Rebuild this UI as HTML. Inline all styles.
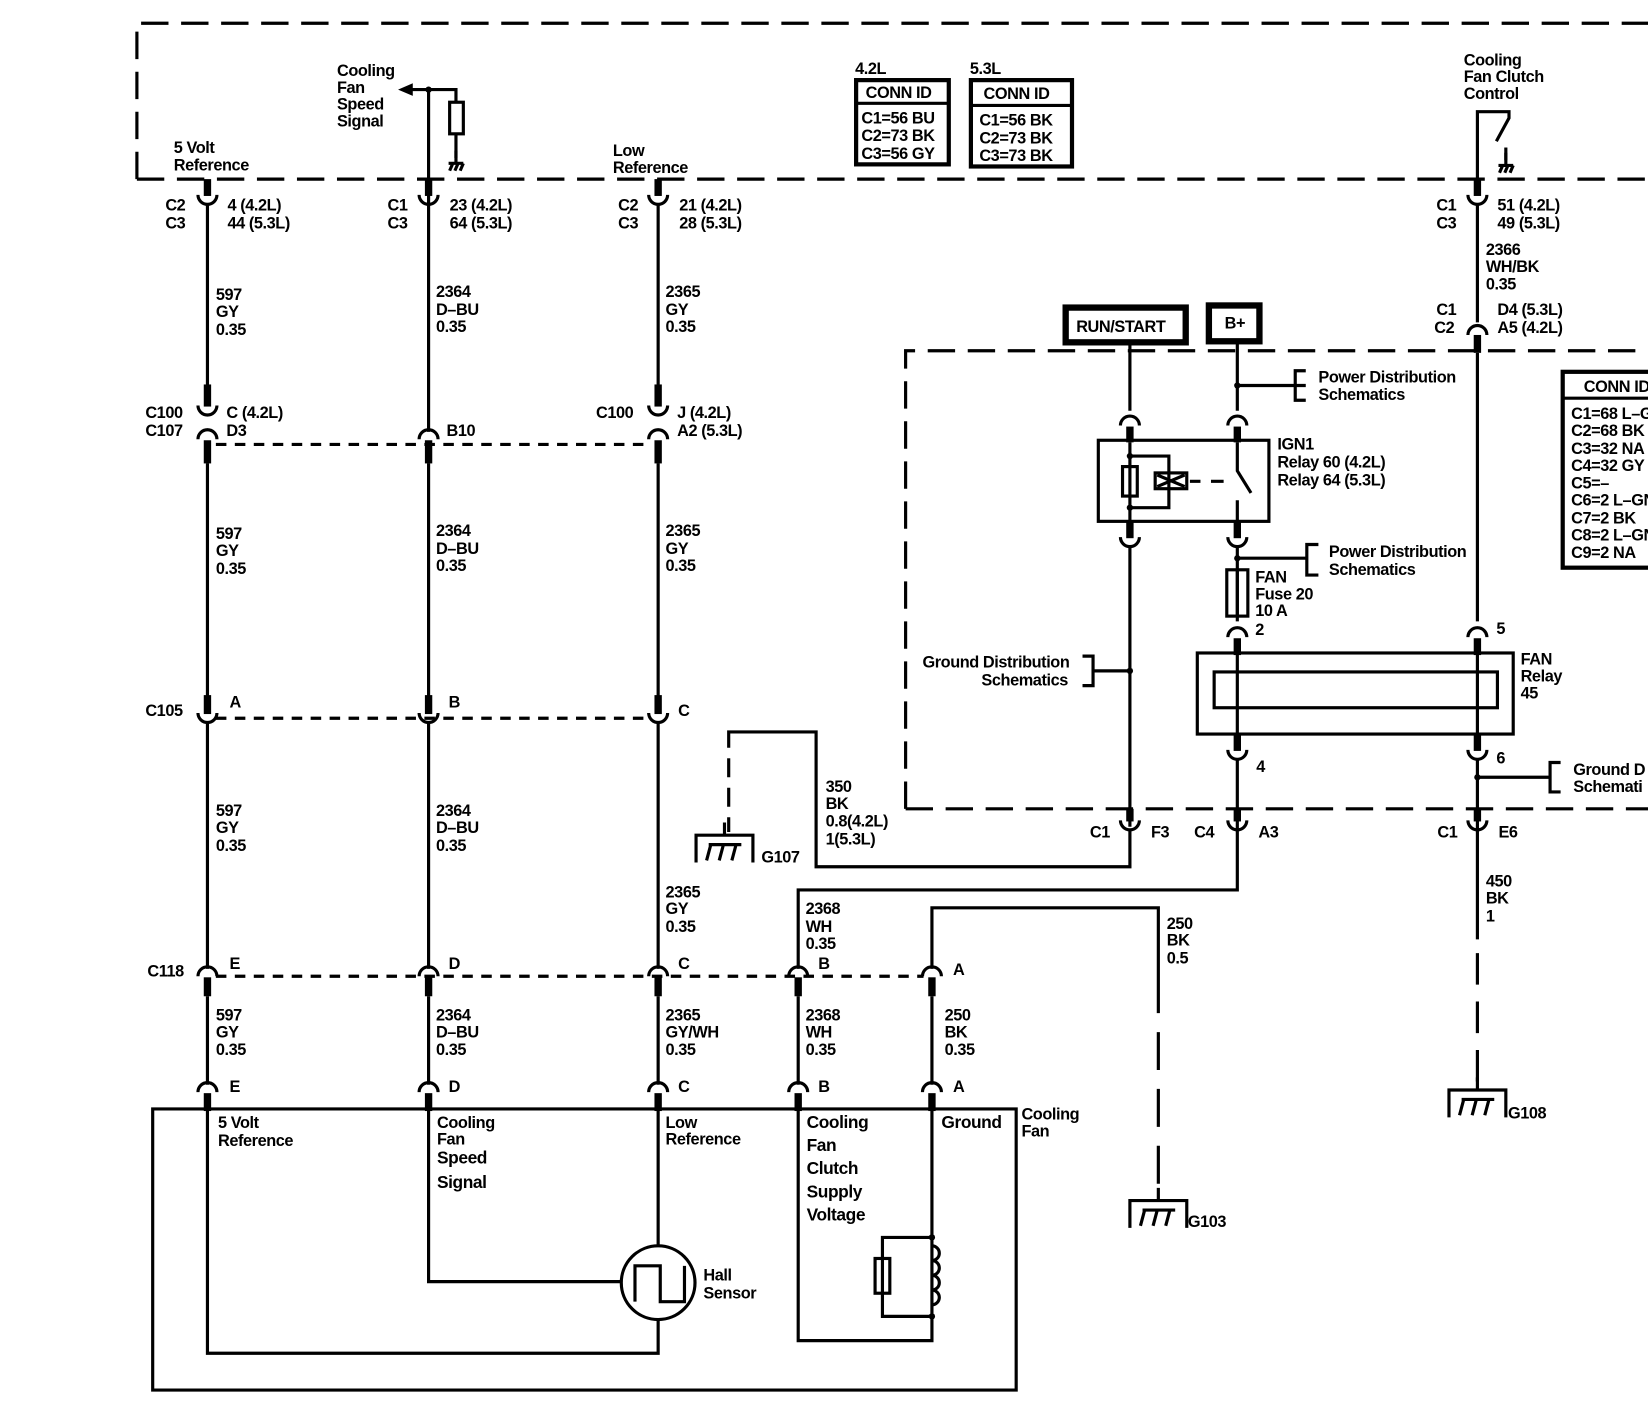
<!DOCTYPE html>
<html><head><meta charset="utf-8"><style>
html,body{margin:0;padding:0;background:#fff;}
svg{display:block;}
text{font-family:"Liberation Sans",sans-serif;font-size:15.5px;font-weight:bold;fill:#000;letter-spacing:-0.4px;}
.w{stroke:#000;stroke-width:3;fill:none;}
.t{stroke:#000;stroke-width:7;fill:none;}
.d1{stroke:#000;stroke-width:3;fill:none;stroke-dasharray:26 12;}
.d2{stroke:#000;stroke-width:3;fill:none;stroke-dasharray:10 8;}
</style></head><body>
<svg width="1648" height="1426" viewBox="0 0 1565 1354" xmlns="http://www.w3.org/2000/svg">
<defs>
<path id="cup" d="M-9 -7 A9 9 0 0 0 9 -7" stroke="#000" stroke-width="3" fill="none"/>
<path id="cap" d="M-9 7 A9 9 0 0 1 9 7" stroke="#000" stroke-width="3" fill="none"/>
<g id="gnd"><path d="M0 0 V-12 M-27 26 V0 H27 V26" stroke="#000" stroke-width="3" fill="none"/><path d="M-17 24 L-13 9 M-5 24 L-1 9 M7 24 L11 9 M-15 9 H16" stroke="#000" stroke-width="3" fill="none"/></g>
<g id="sg"><path d="M0 0 V12 M-7 12 H7 M-6 19 L-3 12 M-1 19 L2 12 M4 19 L7 12" stroke="#000" stroke-width="3" fill="none"/></g>
</defs>

<path class="d1" d="M130 170 V22 H1565"/>
<path class="d1" d="M130 170 H1565"/>

<text x="165" y="145">5 Volt</text><text x="165" y="162">Reference</text>
<text x="320" y="72">Cooling</text><text x="320" y="88">Fan</text><text x="320" y="104">Speed</text><text x="320" y="120">Signal</text>
<text x="582" y="148">Low</text><text x="582" y="164">Reference</text>
<path d="M378 85 L392 79 L392 91 Z" fill="#000"/>
<path class="w" d="M390 85 H433 V97 M433 127 V150"/>
<circle cx="407" cy="85" r="3"/>
<rect x="427" y="97" width="13" height="30" class="w"/>
<use href="#sg" x="433" y="143"/>

<text x="812" y="70">4.2L</text>
<rect x="813" y="76" width="88" height="80" stroke="#000" stroke-width="4" fill="none"/>
<line x1="813" y1="98" x2="901" y2="98" stroke="#000" stroke-width="3"/>
<text x="822" y="93">CONN ID</text>
<text x="818" y="117">C1=56 BU</text><text x="818" y="134">C2=73 BK</text><text x="818" y="151">C3=56 GY</text>
<text x="921" y="70">5.3L</text>
<rect x="922" y="76" width="96" height="82" stroke="#000" stroke-width="4" fill="none"/>
<line x1="922" y1="100" x2="1018" y2="100" stroke="#000" stroke-width="3"/>
<text x="934" y="94">CONN ID</text>
<text x="930" y="119">C1=56 BK</text><text x="930" y="136">C2=73 BK</text><text x="930" y="153">C3=73 BK</text>

<text x="1390" y="62">Cooling</text><text x="1390" y="78">Fan Clutch</text><text x="1390" y="94">Control</text>
<path class="w" d="M1403 170 V106 H1433 V112 L1421 134"/>
<path class="w" d="M1430 140 V152"/>
<use href="#sg" x="1430" y="145"/>

<!-- right CONN ID -->
<rect x="1484" y="353" width="100" height="186" stroke="#000" stroke-width="4" fill="none"/>
<line x1="1484" y1="378" x2="1565" y2="378" stroke="#000" stroke-width="3"/>
<text x="1504" y="372">CONN ID</text>
<text x="1492" y="398">C1=68 L–GY</text><text x="1492" y="414">C2=68 BK</text><text x="1492" y="431">C3=32 NA</text><text x="1492" y="447">C4=32 GY</text><text x="1492" y="464">C5=–</text><text x="1492" y="480">C6=2 L–GN</text><text x="1492" y="497">C7=2 BK</text><text x="1492" y="513">C8=2 L–GN</text><text x="1492" y="530">C9=2 NA</text>

<!-- column 197 -->
<line class="t" x1="197" y1="170" x2="197" y2="186"/>
<use href="#cup" x="197" y="192"/>
<line class="w" x1="197" y1="193" x2="197" y2="372"/>
<line class="t" x1="197" y1="365" x2="197" y2="386"/>
<use href="#cup" x="197" y="392"/>
<use href="#cap" x="197" y="410"/>
<line class="t" x1="197" y1="418" x2="197" y2="440"/>
<line class="w" x1="197" y1="440" x2="197" y2="665"/>
<line class="t" x1="197" y1="660" x2="197" y2="678"/>
<use href="#cup" x="197" y="684"/>
<line class="w" x1="197" y1="685" x2="197" y2="920"/>
<use href="#cap" x="197" y="920"/>
<line class="t" x1="197" y1="928" x2="197" y2="946"/>
<line class="w" x1="197" y1="946" x2="197" y2="1030"/>
<use href="#cap" x="197" y="1030"/>
<line class="t" x1="197" y1="1038" x2="197" y2="1055"/>

<!-- column 407 -->
<line class="t" x1="407" y1="170" x2="407" y2="186"/>
<use href="#cup" x="407" y="192"/>
<line class="w" x1="407" y1="85" x2="407" y2="410"/>
<use href="#cap" x="407" y="410"/>
<line class="t" x1="407" y1="418" x2="407" y2="440"/>
<line class="w" x1="407" y1="440" x2="407" y2="665"/>
<line class="t" x1="407" y1="660" x2="407" y2="678"/>
<use href="#cup" x="407" y="684"/>
<line class="w" x1="407" y1="685" x2="407" y2="920"/>
<use href="#cap" x="407" y="920"/>
<line class="t" x1="407" y1="928" x2="407" y2="946"/>
<line class="w" x1="407" y1="946" x2="407" y2="1030"/>
<use href="#cap" x="407" y="1030"/>
<line class="t" x1="407" y1="1038" x2="407" y2="1055"/>

<!-- column 625 -->
<line class="t" x1="625" y1="170" x2="625" y2="186"/>
<use href="#cup" x="625" y="192"/>
<line class="w" x1="625" y1="193" x2="625" y2="372"/>
<line class="t" x1="625" y1="365" x2="625" y2="386"/>
<use href="#cup" x="625" y="392"/>
<use href="#cap" x="625" y="410"/>
<line class="t" x1="625" y1="418" x2="625" y2="440"/>
<line class="w" x1="625" y1="440" x2="625" y2="665"/>
<line class="t" x1="625" y1="660" x2="625" y2="678"/>
<use href="#cup" x="625" y="684"/>
<line class="w" x1="625" y1="685" x2="625" y2="920"/>
<use href="#cap" x="625" y="920"/>
<line class="t" x1="625" y1="928" x2="625" y2="946"/>
<line class="w" x1="625" y1="946" x2="625" y2="1030"/>
<use href="#cap" x="625" y="1030"/>
<line class="t" x1="625" y1="1038" x2="625" y2="1055"/>

<!-- columns 758 / 885 -->
<path class="w" d="M758 920 V845 H1175 V790"/>
<use href="#cap" x="758" y="920"/>
<line class="t" x1="758" y1="928" x2="758" y2="946"/>
<line class="w" x1="758" y1="946" x2="758" y2="1030"/>
<use href="#cap" x="758" y="1030"/>
<line class="t" x1="758" y1="1038" x2="758" y2="1055"/>
<path class="w" d="M885 920 V862 H1100 V962"/>
<path class="d1" d="M1100 980 V1140" style="stroke-dasharray:36 18"/>
<use href="#gnd" x="1100" y="1140"/>
<text x="1128" y="1165">G103</text>
<use href="#cap" x="885" y="920"/>
<line class="t" x1="885" y1="928" x2="885" y2="946"/>
<line class="w" x1="885" y1="946" x2="885" y2="1030"/>
<use href="#cap" x="885" y="1030"/>
<line class="t" x1="885" y1="1038" x2="885" y2="1055"/>

<path class="d2" d="M205 422 H617"/>
<path class="d2" d="M205 682 H617"/>
<path class="d2" d="M205 927 H877"/>

<text x="157" y="200">C2</text><text x="157" y="217">C3</text>
<text x="216" y="200">4 (4.2L)</text><text x="216" y="217">44 (5.3L)</text>
<text x="368" y="200">C1</text><text x="368" y="217">C3</text>
<text x="427" y="200">23 (4.2L)</text><text x="427" y="217">64 (5.3L)</text>
<text x="587" y="200">C2</text><text x="587" y="217">C3</text>
<text x="645" y="200">21 (4.2L)</text><text x="645" y="217">28 (5.3L)</text>
<text x="138" y="397">C100</text><text x="138" y="414">C107</text>
<text x="215" y="397">C (4.2L)</text><text x="215" y="414">D3</text>
<text x="424" y="414">B10</text>
<text x="566" y="397">C100</text>
<text x="643" y="397">J (4.2L)</text><text x="643" y="414">A2 (5.3L)</text>
<text x="138" y="680">C105</text>
<text x="218" y="672">A</text><text x="426" y="672">B</text><text x="644" y="680">C</text>
<text x="140" y="927">C118</text>
<text x="218" y="920">E</text><text x="426" y="920">D</text><text x="644" y="920">C</text><text x="777" y="920">B</text><text x="905" y="926">A</text>
<text x="218" y="1037">E</text><text x="426" y="1037">D</text><text x="644" y="1037">C</text><text x="777" y="1037">B</text><text x="905" y="1037">A</text>

<text x="205" y="285">597</text><text x="205" y="301">GY</text><text x="205" y="318">0.35</text>
<text x="414" y="282">2364</text><text x="414" y="299">D–BU</text><text x="414" y="315">0.35</text>
<text x="632" y="282">2365</text><text x="632" y="299">GY</text><text x="632" y="315">0.35</text>
<text x="205" y="512">597</text><text x="205" y="528">GY</text><text x="205" y="545">0.35</text>
<text x="414" y="509">2364</text><text x="414" y="526">D–BU</text><text x="414" y="542">0.35</text>
<text x="632" y="509">2365</text><text x="632" y="526">GY</text><text x="632" y="542">0.35</text>
<text x="205" y="775">597</text><text x="205" y="791">GY</text><text x="205" y="808">0.35</text>
<text x="414" y="775">2364</text><text x="414" y="791">D–BU</text><text x="414" y="808">0.35</text>
<text x="632" y="852">2365</text><text x="632" y="868">GY</text><text x="632" y="885">0.35</text>
<text x="765" y="868">2368</text><text x="765" y="885">WH</text><text x="765" y="901">0.35</text>
<text x="1108" y="882">250</text><text x="1108" y="898">BK</text><text x="1108" y="915">0.5</text>
<text x="205" y="969">597</text><text x="205" y="985">GY</text><text x="205" y="1002">0.35</text>
<text x="414" y="969">2364</text><text x="414" y="985">D–BU</text><text x="414" y="1002">0.35</text>
<text x="632" y="969">2365</text><text x="632" y="985">GY/WH</text><text x="632" y="1002">0.35</text>
<text x="765" y="969">2368</text><text x="765" y="985">WH</text><text x="765" y="1002">0.35</text>
<text x="897" y="969">250</text><text x="897" y="985">BK</text><text x="897" y="1002">0.35</text>

<path class="w" d="M145 1053 H965 V1320 H145 Z"/>
<text x="970" y="1063">Cooling</text><text x="970" y="1079">Fan</text>
<text x="207" y="1071">5 Volt</text><text x="207" y="1088">Reference</text>
<text x="415" y="1071">Cooling</text><text x="415" y="1087">Fan</text><text x="415" y="1105" style="font-size:16.5px">Speed</text><text x="415" y="1128" style="font-size:16.5px">Signal</text>
<text x="632" y="1071">Low</text><text x="632" y="1087">Reference</text>
<text x="766" y="1071" style="font-size:16.5px">Cooling</text><text x="766" y="1093" style="font-size:16.5px">Fan</text><text x="766" y="1115" style="font-size:16.5px">Clutch</text><text x="766" y="1137" style="font-size:16.5px">Supply</text><text x="766" y="1159" style="font-size:16.5px">Voltage</text>
<text x="894" y="1071" style="font-size:16.5px">Ground</text>
<path class="w" d="M197 1055 V1285 H625 V1253"/>
<path class="w" d="M625 1055 V1183"/>
<path class="w" d="M407 1055 V1217 H590"/>
<circle cx="625" cy="1218" r="35" class="w"/>
<path class="w" d="M603 1236 V1202 H627 V1236 H650 V1202"/>
<text x="668" y="1216">Hall</text><text x="668" y="1233">Sensor</text>
<path class="w" d="M758 1055 V1273 H885 V1055"/>
<circle cx="885" cy="1175" r="3"/><circle cx="885" cy="1250" r="3"/>
<path class="w" d="M885 1175 H838 V1250 H885"/>
<rect x="831" y="1195" width="14" height="33" fill="#fff" class="w"/>
<path class="w" d="M885 1183 a7 7 0 0 1 0 14 a7 7 0 0 1 0 14 a7 7 0 0 1 0 14 a7 7 0 0 1 0 14" fill="#fff"/>

<path class="d1" d="M860 768 V333 H1565"/>
<path class="d1" d="M860 768 H1565"/>

<rect x="1012" y="292" width="114" height="33" stroke="#000" stroke-width="6" fill="#fff"/>
<text x="1022" y="315">RUN/START</text>
<rect x="1148" y="290" width="48" height="34" stroke="#000" stroke-width="6" fill="#fff"/>
<text x="1163" y="312">B+</text>

<path class="w" d="M1073 325 V390"/>
<use href="#cap" x="1073" y="397"/>
<line class="t" x1="1073" y1="405" x2="1073" y2="420"/>
<path class="w" d="M1175 324 V390"/>
<circle cx="1175" cy="366" r="3"/>
<path class="w" d="M1175 366 H1240 M1240 352 H1230 V380 H1240"/>
<text x="1252" y="363">Power Distribution</text><text x="1252" y="380">Schematics</text>
<use href="#cap" x="1175" y="397"/>
<line class="t" x1="1175" y1="405" x2="1175" y2="420"/>
<rect x="1043" y="418" width="162" height="77" class="w"/>
<text x="1213" y="427">IGN1</text><text x="1213" y="444">Relay 60 (4.2L)</text><text x="1213" y="461">Relay 64 (5.3L)</text>
<path class="w" d="M1073 420 V495"/>
<circle cx="1073" cy="433" r="3"/><circle cx="1073" cy="482" r="3"/>
<rect x="1066" y="443" width="14" height="28" fill="#fff" class="w"/>
<path class="w" d="M1073 433 H1110 V482 H1073"/>
<rect x="1097" y="449" width="30" height="15" fill="#fff" class="w"/>
<path class="w" d="M1099 451 L1125 462 M1099 462 L1125 451"/>
<path class="w" d="M1130 457 H1140 M1150 457 H1162"/>
<path class="w" d="M1175 420 V447 L1188 468 M1175 475 V495"/>
<line class="t" x1="1073" y1="495" x2="1073" y2="511"/>
<use href="#cup" x="1073" y="517"/>
<line class="t" x1="1175" y1="495" x2="1175" y2="511"/>
<use href="#cup" x="1175" y="517"/>
<path class="w" d="M1073 518 V785"/>
<circle cx="1073" cy="637" r="3"/>
<path class="w" d="M1073 637 H1038 M1028 623 H1038 V651 H1028"/>
<text x="876" y="634">Ground Distribution</text><text x="932" y="651">Schematics</text>
<path class="w" d="M1175 518 V590"/>
<circle cx="1175" cy="530" r="3"/>
<path class="w" d="M1175 530 H1241 M1252 517 H1241 V546 H1252"/>
<text x="1262" y="529">Power Distribution</text><text x="1262" y="546">Schematics</text>
<rect x="1165" y="541" width="20" height="44" fill="#fff" class="w"/>
<line class="w" x1="1175" y1="541" x2="1175" y2="585"/>
<text x="1192" y="553">FAN</text><text x="1192" y="569">Fuse 20</text><text x="1192" y="585">10 A</text>
<use href="#cap" x="1175" y="598"/>
<text x="1192" y="603">2</text>
<line class="t" x1="1175" y1="606" x2="1175" y2="622"/>

<rect x="1137" y="620" width="300" height="77" class="w"/>
<rect x="1153" y="638" width="269" height="34" class="w"/>
<path class="w" d="M1175 620 V697 M1403 620 V697"/>
<text x="1444" y="631">FAN</text><text x="1444" y="647">Relay</text><text x="1444" y="663">45</text>
<line class="t" x1="1175" y1="697" x2="1175" y2="713"/>
<use href="#cup" x="1175" y="719"/>
<text x="1193" y="733">4</text>
<line class="t" x1="1403" y1="697" x2="1403" y2="713"/>
<use href="#cup" x="1403" y="719"/>
<text x="1421" y="725">6</text>

<line class="t" x1="1403" y1="170" x2="1403" y2="186"/>
<use href="#cup" x="1403" y="192"/>
<text x="1364" y="200">C1</text><text x="1364" y="217">C3</text>
<text x="1422" y="200">51 (4.2L)</text><text x="1422" y="217">49 (5.3L)</text>
<text x="1411" y="242">2366</text><text x="1411" y="258">WH/BK</text><text x="1411" y="275">0.35</text>
<path class="w" d="M1403 193 V306"/>
<use href="#cap" x="1403" y="311"/>
<line class="t" x1="1403" y1="318" x2="1403" y2="335"/>
<text x="1364" y="299">C1</text><text x="1362" y="316">C2</text>
<text x="1422" y="299">D4 (5.3L)</text><text x="1422" y="316">A5 (4.2L)</text>
<path class="w" d="M1403 335 V590"/>
<use href="#cap" x="1403" y="598"/>
<text x="1421" y="602">5</text>
<line class="t" x1="1403" y1="606" x2="1403" y2="622"/>
<path class="w" d="M1403 720 V892"/>
<circle cx="1403" cy="738" r="3"/>
<path class="w" d="M1403 738 H1472 M1482 724 H1472 V752 H1482"/>
<text x="1494" y="736">Ground D</text><text x="1494" y="752">Schemati</text>
<path class="d1" d="M1403 905 V1033" style="stroke-dasharray:30 16"/>
<use href="#gnd" x="1403" y="1035"/>
<text x="1432" y="1062">G108</text>
<text x="1411" y="842">450</text><text x="1411" y="858">BK</text><text x="1411" y="875">1</text>

<line class="t" x1="1073" y1="768" x2="1073" y2="780"/>
<use href="#cup" x="1073" y="786"/>
<line class="t" x1="1175" y1="768" x2="1175" y2="780"/>
<use href="#cup" x="1175" y="786"/>
<line class="t" x1="1403" y1="768" x2="1403" y2="780"/>
<use href="#cup" x="1403" y="786"/>
<text x="1035" y="795">C1</text><text x="1093" y="795">F3</text>
<text x="1134" y="795">C4</text><text x="1195" y="795">A3</text>
<text x="1365" y="795">C1</text><text x="1423" y="795">E6</text>
<path class="w" d="M1175 720 V790"/>

<path class="w" d="M1073 787 V823 H775 V695 H692 V710"/>
<path class="d1" d="M692 720 V790" style="stroke-dasharray:18 10"/>
<use href="#gnd" x="688" y="793"/>
<text x="723" y="819">G107</text>
<text x="784" y="752">350</text><text x="784" y="768">BK</text><text x="784" y="785">0.8(4.2L)</text><text x="784" y="802">1(5.3L)</text>
</svg>
</body></html>
